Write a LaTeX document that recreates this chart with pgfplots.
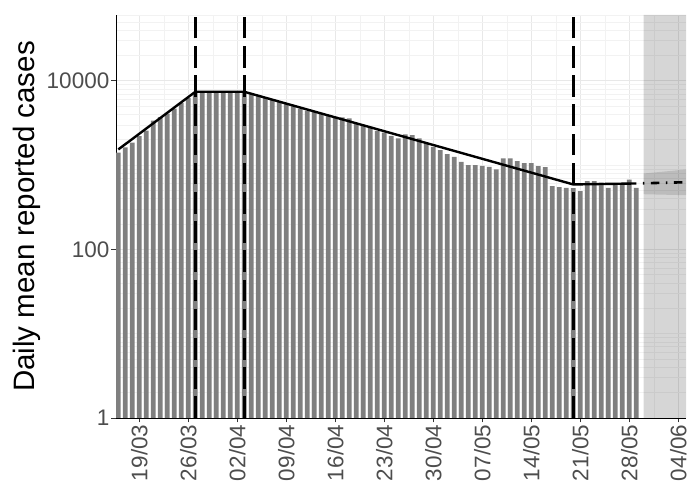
\documentclass[border=0pt]{standalone}
\usepackage{fontspec}
\setmainfont{Liberation Sans}
\usepackage{pgfplots}
\pgfplotsset{compat=1.18}
\usepackage{pgfplotstable}

\definecolor{gridmaj}{RGB}{232,232,232}
\definecolor{gridmin}{RGB}{242,242,242}
\definecolor{tickgray}{RGB}{77,77,77}
\definecolor{bargray}{RGB}{127,127,127}

\pgfplotstableread{
d v
-3 1404
-2 1618
-1 1845
0 2204
1 2563
2 3368
3 3707
4 4078
5 4676
6 5436
7 6230
8 7244
9 7400
10 7400
11 7400
12 7400
13 7400
14 7400
15 7400
16 6953
17 6580
18 6231
19 5900
20 5586
21 5289
22 5008
23 4674
24 4426
25 4249
26 4132
27 3915
28 3758
29 3675
30 3575
31 3120
32 2938
33 2743
34 2547
35 2426
36 2223
37 2069
38 2308
39 2265
40 2069
41 1806
42 1644
43 1503
44 1347
45 1251
46 1091
47 997
48 997
49 978
50 952
51 887
52 1198
53 1198
54 1112
55 1054
56 1054
57 970
58 944
59 561
60 547
61 536
62 532
63 490
64 644
65 644
66 621
67 536
68 577
69 577
70 674
71 536
}\casedata

\begin{document}
\begin{tikzpicture}
\useasboundingbox (0,0) rectangle (700bp,500bp);
\begin{axis}[
  at={(116bp,82bp)}, anchor=south west,
  scale only axis, width=570bp, height=403bp,
  ymode=log, ymin=1, ymax=60250,
  xmin=-3.33, xmax=78.1,
  axis lines*=left,
  axis line style={-, black, line width=0.9bp},
  xtick={0,7,...,77},
  xticklabels={19/03,26/03,02/04,09/04,16/04,23/04,30/04,07/05,14/05,21/05,28/05,04/06},
  ytick={1,100,10000}, yticklabels={1,100,10000},
  minor xtick={3.5,10.5,...,73.5},
  minor ytick={2,3,4,5,6,7,8,9,10,20,30,40,50,60,70,80,90,200,300,400,500,600,700,800,900,1000,2000,3000,4000,5000,6000,7000,8000,9000,20000,30000,40000,50000,60000},
  grid=both,
  major grid style={gridmaj, line width=0.9bp},
  minor grid style={gridmin, line width=0.6bp},
  tick align=outside, major tick length=4.5bp, minor tick length=0pt,
  tick style={black!80, line width=0.9bp},
  ticklabel style={font=\fontsize{22.5bp}{27bp}\selectfont, text=tickgray},
  xticklabel style={rotate=90, anchor=east, inner sep=2bp},
  yticklabel style={anchor=east, inner sep=2bp},
  ylabel={Daily mean reported cases},
  every axis y label/.style={at={(axis description cs:-0.156,0.5)}, rotate=90, anchor=center, font=\fontsize{29.5bp}{35bp}\selectfont},
]
% forecast shaded window
\addplot[draw=none, fill=black, fill opacity=0.16] coordinates {(72.05,1) (72.05,60250) (78.1,60250) (78.1,1)} \closedcycle;
% forecast ribbon
\addplot[draw=none, fill=black, fill opacity=0.12] coordinates {(72.05,451) (78.1,439) (78.1,887) (72.05,794)} -- cycle;
% daily bars
\addplot[ybar, bar width=0.68, fill=bargray, draw=none] table[x=d, y=v] {\casedata};
% fitted piecewise trend
\addplot[black, line width=2.4bp, line join=round] coordinates {(-3,1532) (8,7400) (15,7400) (62,589) (71,605)};
% projection
\addplot[black, line width=2.6bp, dash pattern=on 1.5bp off 6.5bp on 8.5bp off 6.5bp, dash phase=16.5bp] coordinates {(71,605) (78.1,626)};
% breakpoints
\addplot[black, line width=3bp, dash pattern=on 21.5bp off 7.7bp] coordinates {(8.08,1) (8.08,60250)};
\addplot[black, line width=3bp, dash pattern=on 21.5bp off 7.7bp] coordinates {(15.08,1) (15.08,60250)};
\addplot[black, line width=3bp, dash pattern=on 21.5bp off 7.7bp] coordinates {(62.06,1) (62.06,60250)};
\end{axis}
\end{tikzpicture}
\end{document}
